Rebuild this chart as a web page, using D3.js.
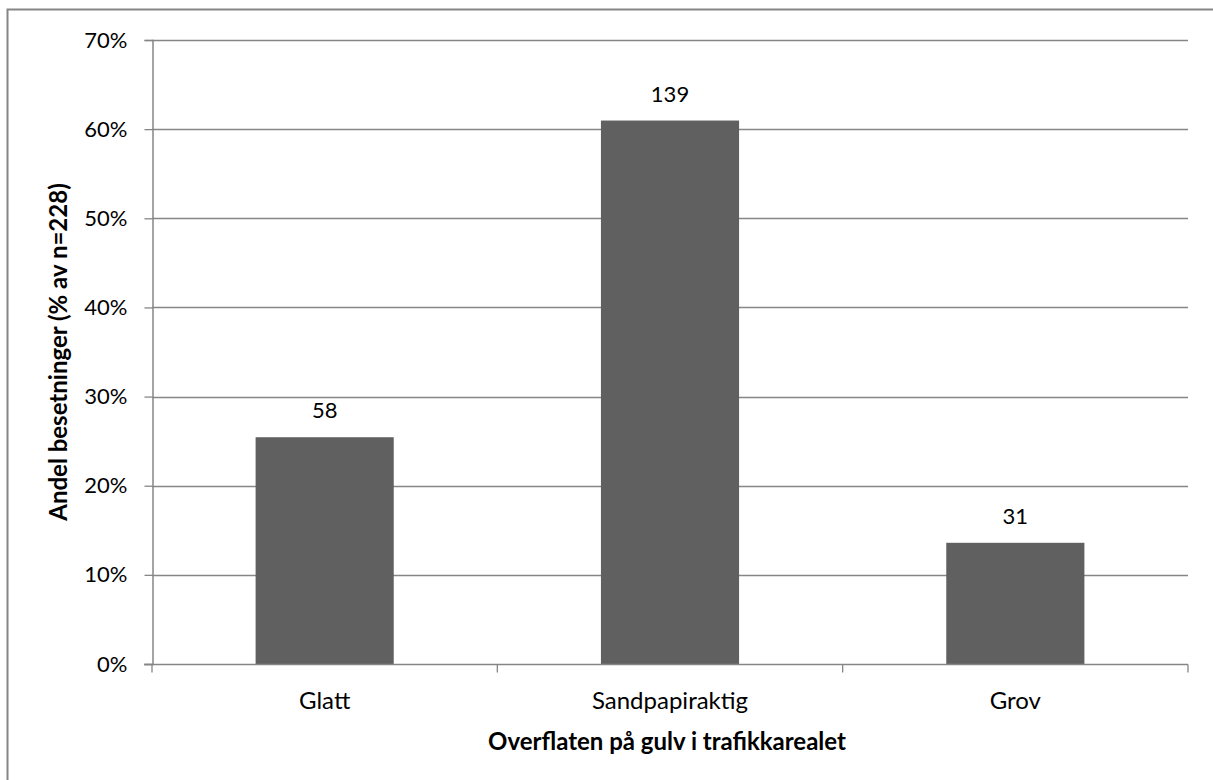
<!DOCTYPE html>
<html>
<head>
<meta charset="utf-8">
<script src="https://cdn.jsdelivr.net/npm/d3@7"></script>
<style>
  html, body { margin: 0; padding: 0; background: #fff; }
  svg { display: block; }
  text { font-family: Lato, "Open Sans", "Noto Sans", sans-serif; fill: #000; }
</style>
</head>
<body>
<svg id="chart" width="1213" height="780"></svg>
<script>
// Survey data: floor surface in the traffic area (n = 228)
const categories = ["Glatt", "Sandpapiraktig", "Grov"];
const counts = [58, 139, 31];
const total = 228;
const yTicks = [0, 0.1, 0.2, 0.3, 0.4, 0.5, 0.6, 0.7];

const xTitle = "Overflaten på gulv i trafikkarealet";
const yTitle = "Andel besetninger (% av n=228)";

const svg = d3.select("#chart");
const W = 1213, H = 780;
const plot = { left: 152, right: 1188, top: 40, bottom: 664 };
const FONT = 22;

// Outer chart frame
svg.append("rect")
  .attr("x", 7.5).attr("y", 9.5)
  .attr("width", W).attr("height", H)
  .attr("fill", "none").attr("stroke", "#868686").attr("stroke-width", 2);

const x = d3.scaleBand().domain(categories).range([plot.left, plot.right]).paddingInner(0.6).paddingOuter(0.3);
const y = d3.scaleLinear().domain([0, 0.7]).range([plot.bottom, plot.top]);

// Horizontal gridlines
svg.append("g").selectAll("line").data(yTicks.filter(d => d > 0)).join("line")
  .attr("x1", plot.left).attr("x2", plot.right)
  .attr("y1", d => Math.round(y(d)) + 0.5).attr("y2", d => Math.round(y(d)) + 0.5)
  .attr("stroke", "#868686").attr("stroke-width", 1.3);

// Bars
svg.append("g").selectAll("rect").data(categories).join("rect")
  .attr("x", d => x(d))
  .attr("width", x.bandwidth())
  .attr("y", (d, i) => y(counts[i] / total))
  .attr("height", (d, i) => y(0) - y(counts[i] / total))
  .attr("fill", "#606060");

// Value labels above bars
svg.append("g").selectAll("text").data(categories).join("text")
  .attr("x", d => x(d) + x.bandwidth() / 2)
  .attr("y", (d, i) => y(counts[i] / total) - 19)
  .attr("text-anchor", "middle")
  .attr("font-size", FONT)
  .text((d, i) => counts[i]);

// Y axis
const yAxis = d3.axisLeft(y).tickValues(yTicks).tickFormat(d3.format(".0%")).tickSize(8).tickPadding(17);
const gy = svg.append("g").attr("transform", `translate(${plot.left + 0.5},0)`).call(yAxis);
gy.select(".domain").attr("stroke", "#868686").attr("stroke-width", 1.5);
gy.selectAll(".tick line").attr("stroke", "#868686").attr("stroke-width", 1.3);
gy.selectAll(".tick text").attr("font-size", FONT).attr("font-family", "Lato, 'Open Sans', sans-serif").attr("fill", "#000");

// X axis with tick marks at category boundaries
const gx = svg.append("g").attr("transform", `translate(0,${plot.bottom + 0.5})`);
gx.append("line").attr("x1", plot.left - 8).attr("x2", plot.right)
  .attr("stroke", "#868686").attr("stroke-width", 1.5);
const step = (plot.right - plot.left) / categories.length;
gx.selectAll("line.tk").data(d3.range(categories.length + 1)).join("line")
  .attr("class", "tk")
  .attr("x1", i => plot.left + i * step).attr("x2", i => plot.left + i * step)
  .attr("y1", 0).attr("y2", 8)
  .attr("stroke", "#868686").attr("stroke-width", 1.3);
gx.selectAll("text").data(categories).join("text")
  .attr("x", d => x(d) + x.bandwidth() / 2)
  .attr("y", 44)
  .attr("text-anchor", "middle")
  .attr("font-size", 24)
  .text(d => d);

// Axis titles
svg.append("text")
  .attr("x", 667).attr("y", 750)
  .attr("text-anchor", "middle").attr("font-size", 24).attr("font-weight", "bold")
  .text(xTitle);

svg.append("text")
  .attr("transform", `translate(67,${(plot.top + plot.bottom) / 2}) rotate(-90)`)
  .attr("text-anchor", "middle").attr("font-size", 24).attr("font-weight", "bold")
  .text(yTitle);
</script>
</body>
</html>
